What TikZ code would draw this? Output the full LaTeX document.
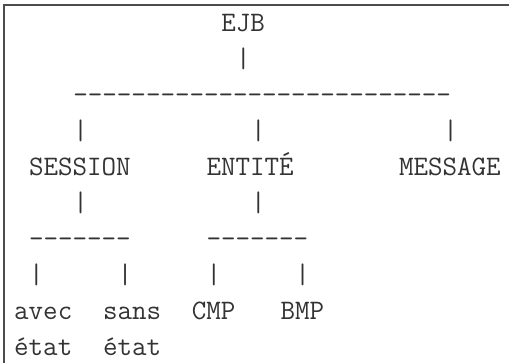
\documentclass[tikz,border=0pt]{standalone}
\usepackage{fontspec}
\usepackage{xcolor}
\usepackage{tikz}
\usetikzlibrary{positioning}

% une suite de tirets separes (pas de ligature -- ou ---)
\newcommand{\asciirule}[1]{\foreach \k in {1,...,#1}{-}}

\begin{document}
\begin{tikzpicture}[transform shape,scale=1,
	ascii/.style={inner sep=0pt,anchor=base west,text=black!80,
		font=\ttfamily\fontsize{28.2}{34}\selectfont}]
	\useasboundingbox (0pt,0pt) rectangle (509pt,-363pt);
	\draw[line width=1.6pt,black!70] (4pt,-363pt) -- (4pt,-5pt) -- (509pt,-5pt);
	\begin{scope}[x=14.8pt,y=-36pt,shift={(14pt,4pt)}]
	% racine
	\node[ascii] (ejb) at (14,1) {EJB};
	\node[ascii] (ejbBar) at (15,2) {|};
	\node[ascii] (topRule) at (4,3) {\asciirule{26}};
	\node[ascii] (sessionBar) at (4,4) {|};
	\node[ascii] (entiteBar) at (16,4) {|};
	\node[ascii] (messageBar) at (29,4) {|};
	% types de beans
	\node[ascii] (session) at (1,5) {SESSION};
	\node[ascii] (entite) at (13,5) {ENTITÉ};
	\node[ascii] (message) at (26,5) {MESSAGE};
	\node[ascii] (sessionBarLow) at (4,6) {|};
	\node[ascii] (entiteBarLow) at (16,6) {|};
	\node[ascii] (sessionRule) at (1,7) {\asciirule{7}};
	\node[ascii] (entiteRule) at (13,7) {\asciirule{7}};
	\node[ascii] (avecBar) at (1,8) {|};
	\node[ascii] (sansBar) at (7,8) {|};
	\node[ascii] (cmpBar) at (13,8) {|};
	\node[ascii] (bmpBar) at (19,8) {|};
	% feuilles
	\node[ascii] (avec) at (0,9) {avec};
	\node[ascii] (sans) at (6,9) {sans};
	\node[ascii] (cmp) at (12,9) {CMP};
	\node[ascii] (bmp) at (18,9) {BMP};
	\node[ascii] (avecEtat) at (0,10) {état};
	\node[ascii] (sansEtat) at (6,10) {état};
	\end{scope}
\end{tikzpicture}
\end{document}
